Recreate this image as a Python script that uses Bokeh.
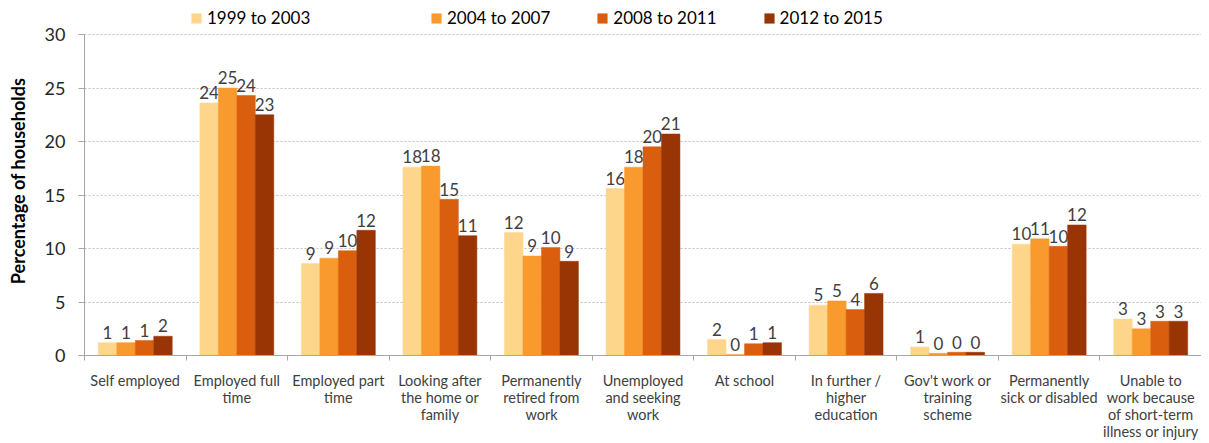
import numpy as np
from bokeh.plotting import figure
from bokeh.models import Range1d, FixedTicker, Legend, LegendItem, ColumnDataSource
from bokeh.core.properties import value
from bokeh.embed import file_html
from bokeh.resources import INLINE

categories = [
    "Self employed",
    "Employed full\ntime",
    "Employed part\ntime",
    "Looking after\nthe home or\nfamily",
    "Permanently\nretired from\nwork",
    "Unemployed\nand seeking\nwork",
    "At school",
    "In further /\nhigher\neducation",
    "Gov't work or\ntraining\nscheme",
    "Permanently\nsick or disabled",
    "Unable to\nwork because\nof short-term\nillness or injury",
]
series_names = ["1999 to 2003", "2004 to 2007", "2008 to 2011", "2012 to 2015"]
v_1999_2003 = [1.2, 23.6, 8.6, 17.6, 11.5, 15.6, 1.5, 4.7, 0.8, 10.4, 3.4]
v_2004_2007 = [1.2, 25.0, 9.1, 17.7, 9.3, 17.6, 0.1, 5.1, 0.2, 10.9, 2.5]
v_2008_2011 = [1.4, 24.3, 9.8, 14.6, 10.1, 19.5, 1.1, 4.3, 0.3, 10.2, 3.2]
v_2012_2015 = [1.8, 22.5, 11.7, 11.2, 8.8, 20.7, 1.2, 5.8, 0.3, 12.2, 3.2]
series_values = [v_1999_2003, v_2004_2007, v_2008_2011, v_2012_2015]
colors = ["#FDD68B", "#F89A2E", "#D95F0E", "#993404"]
y_ticks = [0, 5, 10, 15, 20, 25, 30]

FONT = "Lato"
TXT = "#404040"

# plot frame extends above the 30 line to hold the legend
FW, FH = 1117, 349
LEFT, TOP, BOTTOM = 84, 6, 80
Y_TOP = 30 * FH / 321.0

p = figure(frame_width=FW, frame_height=FH, output_backend="svg", toolbar_location=None,
           x_range=Range1d(0, len(categories)), y_range=Range1d(0, Y_TOP),
           min_border_left=LEFT, min_border_right=0, min_border_top=TOP, min_border_bottom=BOTTOM)
p.outline_line_color = None
p.background_fill_color = "white"
p.border_fill_color = "white"

n = len(series_names)
bar_w = 0.182
centers = np.arange(len(categories)) + 0.5
renderers = []
for k, (name, vals, col) in enumerate(zip(series_names, series_values, colors)):
    xs = centers + (k - (n - 1) / 2) * bar_w
    src = ColumnDataSource(dict(x=xs, top=vals,
                                lab=[str(int(v + 0.5)) for v in vals],
                                ly=[v + 0.35 for v in vals]))
    r = p.vbar(x="x", top="top", width=bar_w, bottom=0, source=src,
               fill_color=col, line_color=col, line_width=0.5)
    renderers.append(r)
    p.text(x="x", y="ly", text="lab", source=src, text_align="center",
           text_baseline="bottom", text_font=value(FONT), text_font_size="17px",
           text_color=TXT)

# y axis
p.yaxis.ticker = FixedTicker(ticks=y_ticks)
p.yaxis.bounds = (0, 30)
p.yaxis.major_label_text_font = FONT
p.yaxis.major_label_text_font_size = "18px"
p.yaxis.major_label_text_color = "#262626"
p.yaxis.axis_line_color = "#A6A6A6"
p.yaxis.major_tick_line_color = "#A6A6A6"
p.yaxis.major_tick_out = 6
p.yaxis.major_tick_in = 0
p.yaxis.minor_tick_line_color = None
p.yaxis.major_label_standoff = 13
p.yaxis.axis_label = "Percentage of households"
p.yaxis.axis_label_text_font = FONT
p.yaxis.axis_label_text_font_style = "bold"
p.yaxis.axis_label_text_font_size = "18px"
p.yaxis.axis_label_text_color = "#000000"
p.yaxis.axis_label_standoff = 13

# x axis
p.xaxis.ticker = FixedTicker(ticks=list(centers), minor_ticks=list(range(len(categories) + 1)))
p.xaxis.major_label_overrides = {float(c): lab for c, lab in zip(centers, categories)}
p.xaxis.major_tick_line_color = None
p.xaxis.major_tick_out = 0
p.xaxis.major_tick_in = 0
p.xaxis.minor_tick_line_color = "#A6A6A6"
p.xaxis.minor_tick_out = 5
p.xaxis.minor_tick_in = 0
p.xaxis.axis_line_color = "#A6A6A6"
p.xaxis.major_label_text_font = FONT
p.xaxis.major_label_text_font_size = "14.5px"
p.xaxis.major_label_text_color = TXT
p.xaxis.major_label_text_line_height = 1.0
p.xaxis.major_label_standoff = 11

p.xgrid.grid_line_color = None
p.ygrid.ticker = FixedTicker(ticks=y_ticks)
p.ygrid.grid_line_color = "#BFBFBF"
p.ygrid.grid_line_dash = "2 2"
p.ygrid.grid_line_width = 1

leg_kw = dict(orientation="horizontal", background_fill_alpha=0, border_line_color=None,
              padding=0, margin=0, glyph_width=12, glyph_height=12, label_standoff=5,
              label_text_font=FONT, label_text_font_size="17px", label_text_color="#000000",
              label_height=18, spacing=46)
leg1 = Legend(items=[LegendItem(label=series_names[0], renderers=[renderers[0]])],
              location=(106, FH - 22), **leg_kw)
leg2 = Legend(items=[LegendItem(label=series_names[k], renderers=[renderers[k]]) for k in range(1, 4)],
              location=(346, FH - 22), **leg_kw)
p.add_layout(leg1, "center")
p.add_layout(leg2, "center")

open("out.html", "w").write(file_html(p, INLINE))
